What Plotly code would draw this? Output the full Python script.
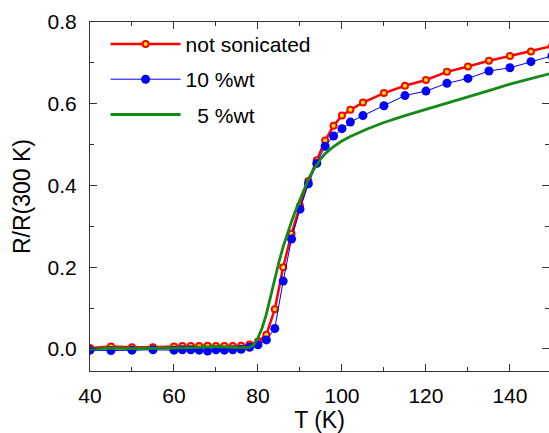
import plotly.graph_objects as go

# ---- data ----
T_red = [40, 45, 50, 55, 60, 62, 64, 66, 68, 70, 72, 74, 76, 78, 80, 82, 84, 86, 88, 90,
         92, 94, 96, 98, 100, 102, 105, 110, 115, 120, 125, 130, 135, 140, 145, 150]
R_red = [0.002, 0.006, 0.004, 0.004, 0.006, 0.007, 0.007, 0.007, 0.008, 0.007, 0.007, 0.007,
         0.008, 0.011, 0.018, 0.035, 0.097, 0.200, 0.282, 0.350, 0.411, 0.462, 0.510, 0.546,
         0.571, 0.585, 0.603, 0.626, 0.644, 0.658, 0.678, 0.691, 0.705, 0.717, 0.728, 0.741]

T_blue = T_red
R_blue = [-0.003, -0.004, -0.003, -0.002, -0.003, -0.002, -0.002, -0.003, -0.005, -0.002, -0.003,
          -0.002, -0.001, 0.004, 0.010, 0.022, 0.050, 0.166, 0.269, 0.342, 0.404, 0.454, 0.496,
          0.521, 0.539, 0.555, 0.571, 0.595, 0.620, 0.631, 0.650, 0.662, 0.680, 0.688, 0.703, 0.717]

T_green = [40, 45, 50, 55, 60, 65, 70, 75, 78, 79, 80, 81, 82, 83, 84, 85, 86, 87, 88, 89, 90,
           91, 92, 93, 94, 95, 96, 97, 98, 99, 100, 102, 104, 106, 108, 110, 115, 120, 125,
           130, 135, 140, 145, 150]
R_green = [0.000, 0.002, 0.001, 0.001, 0.002, 0.003, 0.006, 0.003, 0.004, 0.010, 0.027, 0.052,
           0.085, 0.128, 0.172, 0.213, 0.250, 0.282, 0.312, 0.340, 0.366, 0.392, 0.415, 0.435,
           0.452, 0.466, 0.478, 0.487, 0.495, 0.502, 0.509, 0.520, 0.530, 0.538, 0.546, 0.554,
           0.571, 0.586, 0.601, 0.617, 0.632, 0.648, 0.661, 0.675]

names = ["not sonicated", "10 %wt", "\u00a0\u00a05 %wt"]

x_range = [40, 149.3]
y_range = [-0.054, 0.8]
x_major = [40, 60, 80, 100, 120, 140]

FONT = "Liberation Sans, Arial, sans-serif"

fig = go.Figure()
fig.add_trace(go.Scatter(
    x=T_red, y=R_red, name=names[0], mode="lines+markers", legendgroup="a",
    line=dict(color="#ff0000", width=2.5),
    marker=dict(size=6, color="#ffee00", line=dict(color="#ff0000", width=2)),
))
fig.add_trace(go.Scatter(
    x=T_blue, y=R_blue, name=names[1], mode="lines+markers", legendgroup="b",
    line=dict(color="#0000ff", width=1),
    marker=dict(size=9, color="#0000ff"),
))
fig.add_trace(go.Scatter(
    x=T_green, y=R_green, name=names[2], mode="lines", legendgroup="c",
    line=dict(color="#138a13", width=2.8),
))
# right-hand tick marks (axis itself lies just beyond the picture)
fig.add_trace(go.Scatter(x=[None], y=[None], yaxis="y2", showlegend=False, hoverinfo="skip"))

fig.update_layout(
    width=549, height=433,
    margin=dict(l=90, r=0, t=22, b=62),
    paper_bgcolor="white", plot_bgcolor="white",
    font=dict(family=FONT, color="black"),
    showlegend=True,
    legend=dict(
        x=0.034, y=0.995, xanchor="left", yanchor="top",
        font=dict(size=21, family=FONT),
        bgcolor="rgba(0,0,0,0)", tracegroupgap=5,
        itemwidth=70,
    ),
    xaxis=dict(
        range=x_range, tickvals=x_major, ticks="inside", ticklen=7, tickwidth=1,
        tickcolor="#333", showline=True, linecolor="#333", linewidth=1.2,
        mirror="ticks", showgrid=False, zeroline=False, automargin=False,
        tickfont=dict(size=21, family=FONT),
        minor=dict(tickvals=[50, 70, 90, 110, 130], ticks="inside", ticklen=4,
                   tickcolor="#333", showgrid=False),
        title=dict(text="T (K)", font=dict(size=23, family=FONT), standoff=6),
        ticklabelstandoff=6,
    ),
    yaxis=dict(
        range=y_range, tickvals=[0, 0.2, 0.4, 0.6, 0.8], tickformat=".1f",
        ticks="inside", ticklen=7, tickwidth=1, tickcolor="#333",
        showline=True, linecolor="#333", linewidth=1.2, showgrid=False, zeroline=False,
        automargin=False,
        tickfont=dict(size=21, family=FONT),
        minor=dict(tickvals=[0.1, 0.3, 0.5, 0.7], ticks="inside", ticklen=4,
                   tickcolor="#333", showgrid=False),
        title=dict(text="R/R(300 K)", font=dict(size=23, family=FONT), standoff=10),
        ticklabelstandoff=8,
    ),
    yaxis2=dict(
        range=y_range, overlaying="y", side="right", showline=False, automargin=False,
        tickvals=[0, 0.2, 0.4, 0.6, 0.8], ticks="inside", ticklen=7, tickcolor="#333",
        showticklabels=False, showgrid=False, zeroline=False,
        minor=dict(tickvals=[0.1, 0.3, 0.5, 0.7], ticks="inside", ticklen=4,
                   tickcolor="#333", showgrid=False),
    ),
)

fig.write_html(
    "out.html",
    config={"displayModeBar": False},
    post_script="document.body.style.margin='0';document.body.style.overflow='hidden';",
)
